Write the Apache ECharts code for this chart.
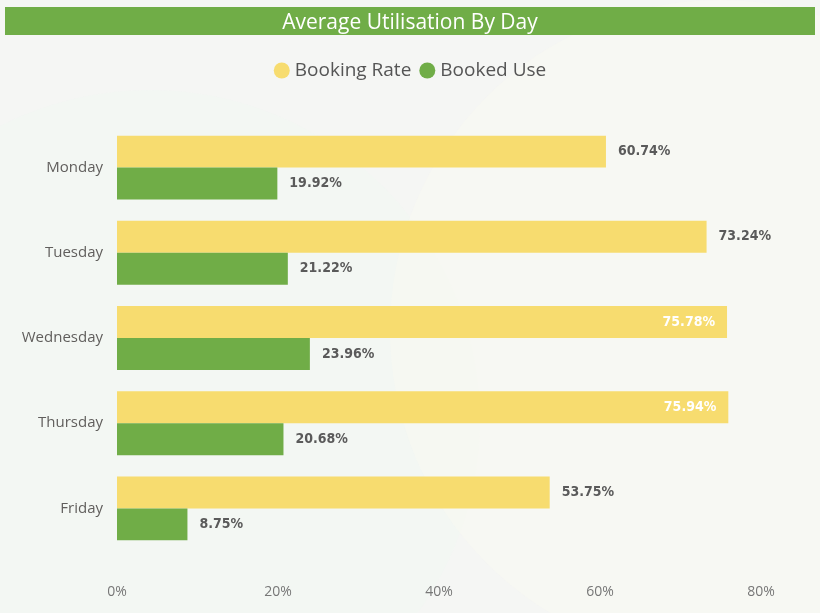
<!DOCTYPE html>
<html>
<head>
<meta charset="utf-8">
<script src="https://cdn.jsdelivr.net/npm/echarts@6/dist/echarts.min.js"></script>
<style>
  html, body { margin: 0; padding: 0; }
  #main { width: 820px; height: 613px; }
</style>
</head>
<body>
<div id="main"></div>
<script>
const days = ['Monday', 'Tuesday', 'Wednesday', 'Thursday', 'Friday'];
const bookingRate = [60.74, 73.24, 75.78, 75.94, 53.75];
const bookedUse = [19.92, 21.22, 23.96, 20.68, 8.75];
const xTicks = [0, 20, 40, 60, 80];

const chart = echarts.init(document.getElementById('main'));

const labelFont = 'DejaVu Sans Condensed';

// the two longest bars carry their label inside, in white
function rateData() {
  return bookingRate.map(v => {
    if (v > 75) {
      return {
        value: v,
        label: { position: 'insideRight', color: '#ffffff', distance: 12 }
      };
    }
    return v;
  });
}

const option = {
  backgroundColor: '#f5f6f4',
  graphic: [
    { type: 'circle', shape: { cx: 150, cy: 420, r: 330 }, style: { fill: 'rgba(238,248,242,0.3)' }, z: -10 },
    { type: 'circle', shape: { cx: 720, cy: 330, r: 330 }, style: { fill: 'rgba(250,250,242,0.5)' }, z: -10 },
    { type: 'rect', shape: { x: 5, y: 7, width: 810, height: 28 }, style: { fill: '#70ad47' }, z: 1 }
  ],
  title: {
    text: 'Average Utilisation By Day',
    left: 'center',
    top: 8,
    textStyle: { color: '#ffffff', fontSize: 21, fontWeight: 'normal', fontFamily: 'Open Sans' },
    z: 5
  },
  legend: {
    top: 56,
    left: 'center',
    icon: 'circle',
    itemWidth: 16,
    itemHeight: 16,
    itemGap: 8,
    textStyle: { color: '#555555', fontSize: 19, fontFamily: 'Open Sans' },
    data: ['Booking Rate', 'Booked Use']
  },
  grid: { left: 117, right: 59, top: 125, bottom: 62 },
  xAxis: {
    type: 'value',
    min: xTicks[0],
    max: xTicks[xTicks.length - 1],
    interval: 20,
    axisLabel: { formatter: '{value}%', color: '#777777', fontSize: 14, margin: 34, fontFamily: 'Open Sans' },
    splitLine: { show: false },
    axisLine: { show: false },
    axisTick: { show: false }
  },
  yAxis: {
    type: 'category',
    data: days,
    inverse: true,
    axisLabel: { color: '#605e5c', fontSize: 15, margin: 14, fontFamily: 'Open Sans' },
    axisLine: { show: false },
    axisTick: { show: false }
  },
  series: [
    {
      name: 'Booking Rate',
      type: 'bar',
      data: rateData(),
      barGap: '0%',
      barCategoryGap: '25%',
      itemStyle: { color: '#f7dc6f' },
      label: {
        show: true,
        position: 'right',
        distance: 12,
        formatter: p => p.value.toFixed(2) + '%',
        color: '#5a5a5a',
        fontSize: 14,
        fontWeight: 'bold',
        fontFamily: labelFont
      }
    },
    {
      name: 'Booked Use',
      type: 'bar',
      data: bookedUse,
      itemStyle: { color: '#70ad47' },
      label: {
        show: true,
        position: 'right',
        distance: 12,
        formatter: p => p.value.toFixed(2) + '%',
        color: '#5a5a5a',
        fontSize: 14,
        fontWeight: 'bold',
        fontFamily: labelFont
      }
    }
  ]
};

chart.setOption(option);
</script>
</body>
</html>
